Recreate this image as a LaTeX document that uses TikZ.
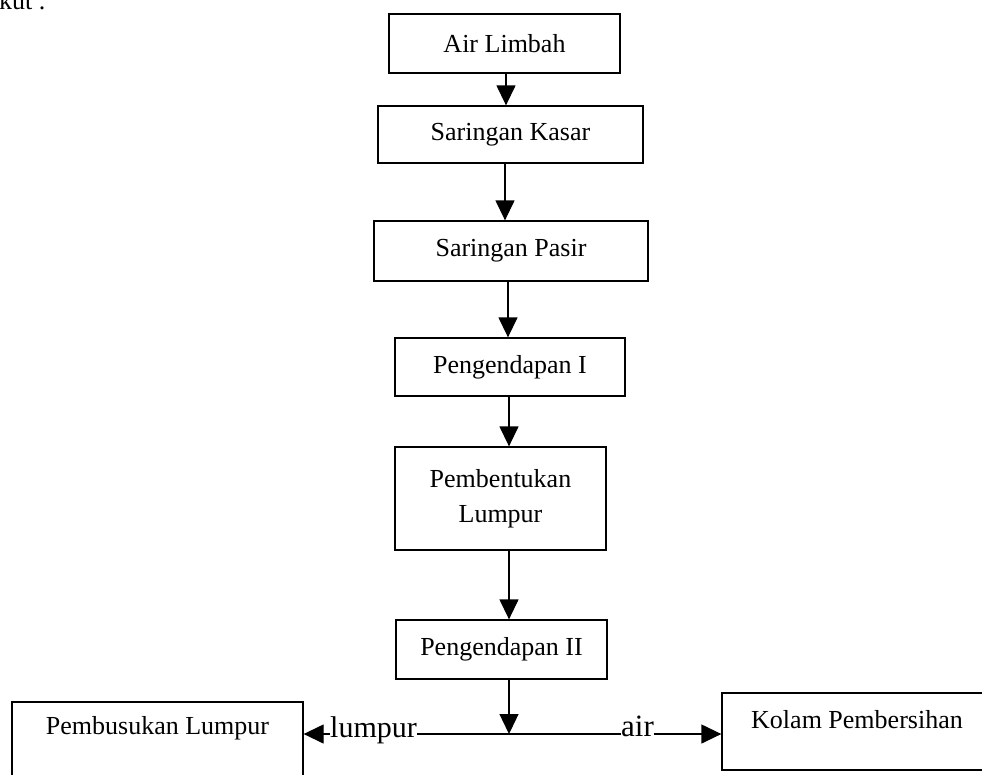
\documentclass[tikz,border=0pt]{standalone}
\usepackage{fontspec}
\setmainfont{Liberation Serif}
\usetikzlibrary{arrows.meta}
\newcommand\boxfont{\fontsize{26}{35}\selectfont}
\newcommand\lblfont{\fontsize{30}{34}\selectfont}
\begin{document}
\begin{tikzpicture}[x=1pt,y=-1pt,
  box/.style={draw, line width=1.3pt, rectangle, inner sep=0pt, font=\boxfont, align=center},
  txt/.style={inner sep=0pt, font=\boxfont},
  lbl/.style={inner sep=0pt, font=\lblfont},
  arr/.style={-{Triangle[length=20pt,width=19pt]}, line width=1.3pt},
  ln/.style={line width=1.3pt}]
\useasboundingbox (0,0) rectangle (982,774);
\node[txt, anchor=base west] (kut) at (-1,9) {kut .};
\node[box, minimum width=231, minimum height=59] (air) at (504.5,43.5) {Air Limbah};
\node[box, minimum width=265, minimum height=57] (kasar) at (510.5,134.5) {Saringan Kasar};
\node[box, minimum width=274, minimum height=60] (pasir) at (511,251) {Saringan Pasir};
\node[box, minimum width=230, minimum height=58] (peng1) at (510,367) {Pengendapan I};
\node[box, minimum width=211, minimum height=103] (bentuk) at (500.5,498.5) {Pembentukan\\Lumpur};
\node[box, minimum width=211, minimum height=59] (peng2) at (501.5,649.5) {Pengendapan II};
\node[box, minimum width=291, minimum height=98] (busuk) at (157.5,751) {};
\node[txt] (busuktxt) at (157.5,728) {Pembusukan Lumpur};
\node[box, minimum width=268, minimum height=77] (kolam) at (856,731.5) {};
\node[txt] (kolamtxt) at (857,720) {Kolam Pembersihan};
\node[lbl, anchor=base west] (lumpur) at (330,737) {lumpur};
\node[lbl, anchor=base west, font=\fontsize{31}{34}\selectfont] (airl) at (621,736) {air};
\coordinate (j) at (509,734);
\draw[arr] ([xshift=1.5pt]air.south) -- ([xshift=1.5pt]air.south |- kasar.north);
\draw[arr] ([xshift=-5.5pt]kasar.south) -- ([xshift=-5.5pt]kasar.south |- pasir.north);
\draw[arr] ([xshift=-3pt]pasir.south) -- ([xshift=-3pt]pasir.south |- peng1.north);
\draw[arr] ([xshift=-1pt]peng1.south) -- ([xshift=-1pt]peng1.south |- bentuk.north);
\draw[arr] ([xshift=8.5pt]bentuk.south) -- ([xshift=8.5pt]bentuk.south |- peng2.north);
\draw[arr] (peng2.south -| j) -- (j);
\draw[ln] (lumpur.east |- j) -- (airl.west |- j);
\draw[arr] (lumpur.west |- j) -- (busuk.east |- j);
\draw[arr] (airl.east |- j) -- (kolam.west |- j);
\end{tikzpicture}
\end{document}
